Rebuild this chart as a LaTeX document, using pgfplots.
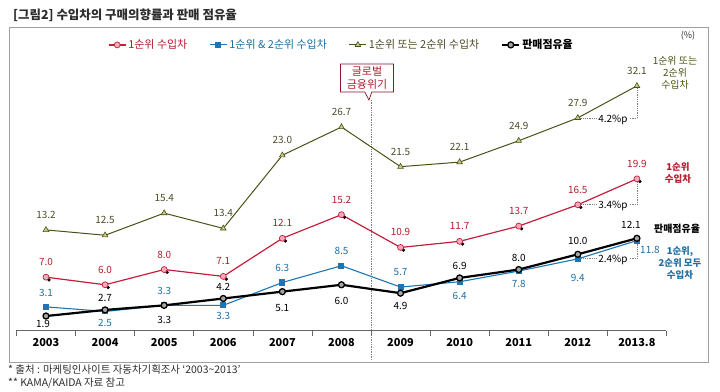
\documentclass[border=0pt]{standalone}
\usepackage{fontspec}
\setmainfont{Noto Sans CJK KR}
\usepackage{pgfplots}
\usepackage{pgfplotstable}
\pgfplotsset{compat=1.18}
\usetikzlibrary{shapes.callouts}

\definecolor{rl}{RGB}{196,30,58}
\definecolor{rf}{RGB}{244,170,190}
\definecolor{rt}{RGB}{178,28,45}
\definecolor{bl}{RGB}{28,118,178}
\definecolor{bt}{RGB}{30,110,160}
\definecolor{ol}{RGB}{72,82,22}
\definecolor{of}{RGB}{200,200,130}
\definecolor{ot}{RGB}{75,75,40}
\definecolor{fr}{RGB}{160,160,160}
\definecolor{tt}{RGB}{45,45,45}

\pgfplotstableread{
x y dy dx
0 7.0 15 0
1 6.0 15 0
2 8.0 15 0
3 7.1 15 0
4 12.1 15 0
5 15.2 15 0
6 10.9 15 0
7 11.7 15 0
8 13.7 15 0
9 16.5 15 0
10 19.9 15 0
}\redtab

\pgfplotstableread{
x y dy dx
0 3.1 14 0
1 2.5 -11 0
2 3.3 14 0
3 3.3 -11 0
4 6.3 15 0
5 8.5 15 0
6 5.7 15 0
7 6.4 -14 0
8 7.8 -13 0
9 9.4 -19 0
10 11.8 -9 13
}\bluetab

\pgfplotstableread{
x y dy dx
0 13.2 15 0
1 12.5 15 0
2 15.4 15 0
3 13.4 15 0
4 23.0 15 0
5 26.7 15 0
6 21.5 15 0
7 22.1 15 0
8 24.9 15 0
9 27.9 15 0
10 32.1 15 0
}\olivetab

\pgfplotstableread{
x y dy dx
0 1.9 -8 -3
1 2.7 12 0
2 3.3 -15 0
3 4.2 12 0
4 5.1 -16 0
5 6.0 -16 0
6 4.9 -13 0
7 6.9 12 0
8 8.0 12 0
9 10.0 13 0
10 12.1 13 -6
}\blacktab

\pgfplotsset{
  lbl/.style={
    nodes near coords={\pgfmathprintnumber[fixed,fixed zerofill,precision=1,assume math mode=true]{\pgfplotspointmeta}},
    visualization depends on={\thisrow{dy}\as\mydy},
    visualization depends on={\thisrow{dx}\as\mydx},
    every node near coord/.append style={anchor=center, inner sep=0pt,
      font=\fontsize{10}{12}\selectfont, text=#1,
      xshift=\mydx bp, yshift=\mydy bp}
  }
}

\begin{document}
\begin{tikzpicture}
\useasboundingbox (0bp,0bp) rectangle (720bp,392bp);
% frame
\draw[fr, line width=0.8pt] (9bp,30bp) rectangle (708bp,365bp);
% title
\node[anchor=west, inner sep=0pt, text=tt, font=\bfseries\fontsize{12.5}{14}\selectfont] at (13bp,377bp) {[그림2] 수입차의 구매의향률과 판매 점유율};
% footnotes
\node[anchor=west, inner sep=0pt, text=tt, font=\fontsize{10.5}{12}\selectfont] at (8bp,22bp) {* 출처 : 마케팅인사이트 자동차기획조사 `2003\textasciitilde2013'};
\node[anchor=west, inner sep=0pt, text=tt, font=\fontsize{10.5}{12}\selectfont] at (8bp,9bp) {** KAMA/KAIDA 자료 참고};
% crisis line
\draw[gray, densely dotted, line width=0.7pt] (371bp,292bp) -- (371bp,32bp);

\begin{axis}[
  at={(16.45bp,61.5bp)}, anchor=south west,
  scale only axis, width=650bp, height=304.8bp,
  xmin=-0.5, xmax=10.5, ymin=0, ymax=40,
  axis x line*=bottom, axis y line=none,
  x axis line style={-, gray!80!black, line width=0.8pt},
  xtick={0,...,10},
  xticklabels={2003,2004,2005,2006,2007,2008,2009,2010,2011,2012,2013.8},
  major tick length=0pt,
  minor xtick={-0.5,0.5,...,10.5},
  minor tick length=5bp,
  tick align=outside,
  minor tick style={gray!80!black, line width=0.6pt},
  xticklabel style={font=\bfseries\fontsize{11}{13}\selectfont, yshift=-4bp},
  clip=false,
  legend columns=4,
  legend style={at={(0.5,0.937)}, anchor=center, draw=none, fill=none,
    font=\fontsize{11}{13}\selectfont,
    /tikz/every even column/.append style={column sep=20bp}},
]
% brackets
\draw[gray, densely dotted, line width=0.8pt] (axis cs:9,27.9) -- (axis cs:10,27.9) -- (axis cs:10,32.1);
\draw[gray, densely dotted, line width=0.8pt] (axis cs:9,16.5) -- (axis cs:10,16.5) -- (axis cs:10,19.9);
\draw[gray, densely dotted, line width=0.8pt] (axis cs:9,9.4) -- (axis cs:10,9.4) -- (axis cs:10,11.8);

\addplot[only marks, mark=*, mark size=1.5pt, black, forget plot] coordinates {
(0.05,6.65) (1.05,5.65) (2.05,7.65) (3.05,6.75) (4.05,11.75) (5.05,14.85)
(6.05,10.55) (7.05,11.35) (8.05,13.35) (9.05,16.15) (10.05,19.55)};

\addplot[rl, line width=1.2pt, mark=*, mark size=3pt,
  mark options={fill=rf, draw=rl, line width=0.7pt}, lbl=rt]
  table[x=x,y=y] {\redtab};
\addlegendentry{\textcolor{rt}{1순위 수입차}}

\addplot[bl, line width=1.1pt, mark=square*, mark size=2.5pt,
  mark options={fill=bl, draw=bl}, lbl=bt]
  table[x=x,y=y] {\bluetab};
\addlegendentry{\textcolor{bt}{1순위 \& 2순위 수입차}}

\addplot[ol, line width=1pt, mark=triangle*, mark size=3.3pt,
  mark options={fill=of, draw=ol, line width=0.6pt}, lbl=ot]
  table[x=x,y=y] {\olivetab};
\addlegendentry{\textcolor{ot}{1순위 또는 2순위 수입차}}

\addplot[black, line width=2.2pt, mark=*, mark size=3pt,
  mark options={fill=gray!70, draw=black, line width=1.3pt}, lbl=black]
  table[x=x,y=y] {\blacktab};
\addlegendentry{\textbf{판매점유율}}
\end{axis}

% callout
\node[rectangle callout, draw=rl!70!black, fill=white, line width=0.7pt,
  callout absolute pointer={(369bp,292bp)}, align=center, text=rt,
  font=\fontsize{11}{13}\selectfont, inner sep=2.5pt, minimum width=53bp]
  at (367bp,314bp) {글로벌\\금융위기};

% side annotations
\node[text=tt, font=\fontsize{9}{11}\selectfont] at (688bp,356bp) {(\%)};
\node[align=center, text=ol, font=\fontsize{10}{12}\selectfont] at (675bp,319bp) {1순위 또는\\2순위\\수입차};
\node[align=center, text=rt, font=\bfseries\fontsize{9.5}{12}\selectfont] at (678bp,219bp) {1순위\\수입차};
\node[text=black, font=\bfseries\fontsize{10}{12}\selectfont] at (677bp,163bp) {판매점유율};
\node[align=center, text=bt, font=\bfseries\fontsize{9.5}{12.5}\selectfont] at (680bp,129bp) {1순위,\\2순위 모두\\수입차};
\node[fill=white, inner sep=1.5pt, font=\fontsize{10}{12}\selectfont] at (613bp,272bp) {4.2\%p};
\node[fill=white, inner sep=1.5pt, font=\fontsize{10}{12}\selectfont] at (613bp,186bp) {3.4\%p};
\node[fill=white, inner sep=1.5pt, font=\fontsize{10}{12}\selectfont] at (613bp,132bp) {2.4\%p};
\end{tikzpicture}
\end{document}
